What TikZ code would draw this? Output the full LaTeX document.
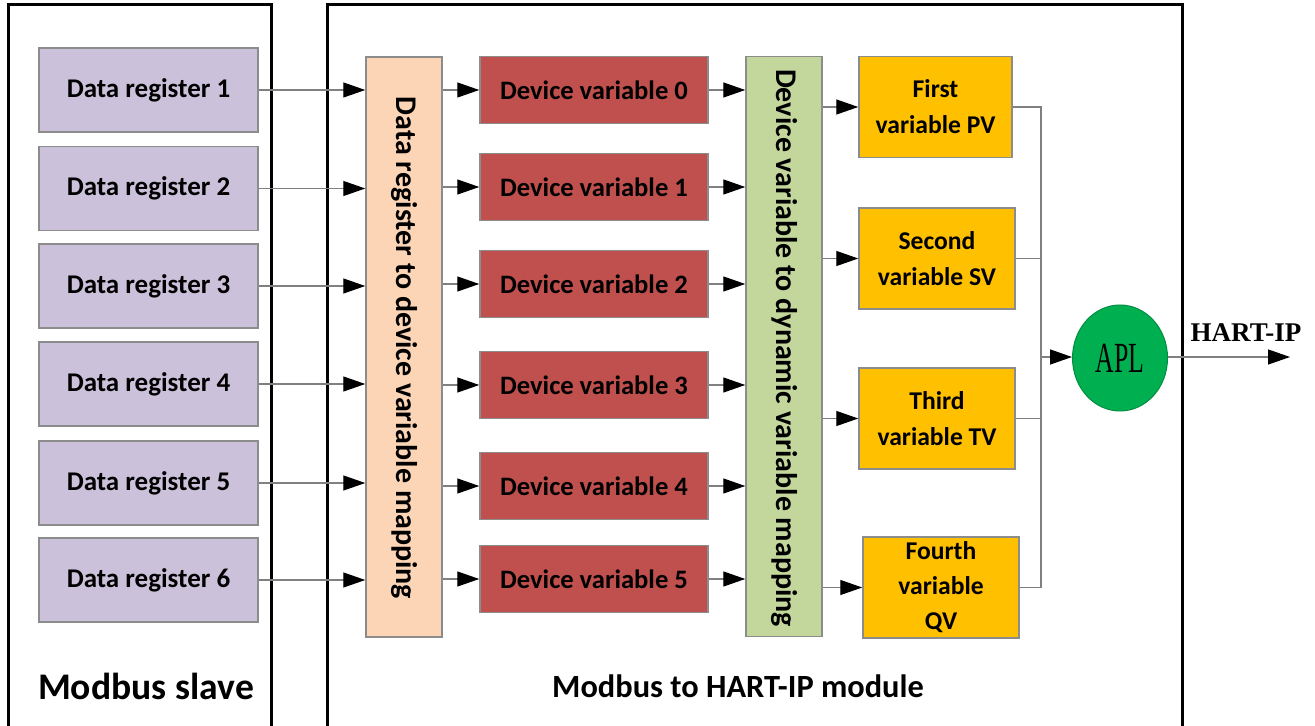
\documentclass[tikz,border=0pt]{standalone}
\usepackage{fontspec}
\setmainfont{Carlito}
\newfontfamily\serifb{Liberation Serif}
\usetikzlibrary{arrows.meta,shapes.geometric}
\definecolor{regfill}{HTML}{CCC1DA}
\definecolor{orfill}{HTML}{FBD5B5}
\definecolor{devfill}{HTML}{C0504D}
\definecolor{grfill}{HTML}{C3D69B}
\definecolor{yefill}{HTML}{FFC000}
\definecolor{aplfill}{HTML}{00B050}
\definecolor{edge}{HTML}{8C8C8C}
\definecolor{wire}{HTML}{808080}
\begin{document}
\begin{tikzpicture}[x=0.5pt,y=-0.5pt,
  txt/.style={font=\bfseries\fontsize{12.8}{18}\selectfont},
  box/.style={draw=edge, line width=0.75pt, inner sep=0pt, align=center, txt},
  regbox/.style={box, fill=regfill, minimum width=109.5pt, minimum height=42pt, font=\bfseries\fontsize{13.5}{18}\selectfont},
  devbox/.style={box, fill=devfill, minimum width=114pt, minimum height=33.5pt, font=\bfseries\fontsize{13.3}{18}\selectfont},
  barbox/.style={box, minimum width=38pt, minimum height=290pt},
  bartxt/.style={font=\bfseries\fontsize{15}{18}\selectfont, rotate=-90, inner sep=0pt},
  yebox/.style={box, fill=yefill, minimum width=78pt, minimum height=50.5pt},
  wireline/.style={draw=wire, line width=0.65pt},
  arr/.style={wireline, -{Triangle[length=11pt,width=7.5pt,fill=black,color=black]}},
  frame/.style={draw=black, line width=1.5pt}
]
\useasboundingbox (0,0) rectangle (1315,726);
\clip (0,0) rectangle (1315,726);
\fill[white] (0,0) rectangle (1315,726);

% outer frames
\draw[frame] (8,740) -- (8,5) -- (271,5) -- (271,740);
\draw[frame] (327,740) -- (327,5) -- (1182,5) -- (1182,740);

% data registers
\node[regbox] (r1) at (148.5,90) {Data register 1};
\node[regbox] (r2) at (148.5,188.5) {Data register 2};
\node[regbox] (r3) at (148.5,286) {Data register 3};
\node[regbox] (r4) at (148.5,384) {Data register 4};
\node[regbox] (r5) at (148.5,483) {Data register 5};
\node[regbox] (r6) at (148.5,580) {Data register 6};

% mapping bars
\node[barbox, fill=orfill] (mapA) at (404,347) {};
\node[bartxt] (mapAt) at (404,348) {Data register to device variable mapping};
\node[barbox, fill=grfill] (mapB) at (784,346.5) {};
\node[bartxt] (mapBt) at (784,348) {Device variable to dynamic variable mapping};

% device variables
\node[devbox] (d0) at (594,90) {Device variable 0};
\node[devbox] (d1) at (594,187) {Device variable 1};
\node[devbox] (d2) at (594,284) {Device variable 2};
\node[devbox] (d3) at (594,385) {Device variable 3};
\node[devbox] (d4) at (594,486) {Device variable 4};
\node[devbox] (d5) at (594,579) {Device variable 5};

% dynamic variables
\node[yebox, minimum width=76.5pt] (pv) at (935.5,107) {First\\variable PV};
\node[yebox] (sv) at (937,258.5) {Second\\variable SV};
\node[yebox] (tv) at (937,418.5) {Third\\variable TV};
\node[yebox, font=\bfseries\fontsize{12.8}{17.5}\selectfont] (qv) at (941,587.5) {Fourth\\variable\\QV};

% APL
\node[ellipse, draw=aplfill!80!black, line width=0.5pt, fill=aplfill, minimum width=47.5pt, minimum height=53pt, inner sep=0pt,
      font=\serifb\fontsize{21.5}{22}\selectfont] (apl) at (1120,358) {\scalebox{0.6}[1]{APL}};
\node[font=\serifb\bfseries\fontsize{13.5}{15}\selectfont, inner sep=0pt] (hart) at (1246,333) {HART-IP};

% arrows registers -> bar A
\foreach \i in {1,...,6} {
  \draw[arr] (r\i.east) -- (r\i.east -| mapA.west);
}
% bar A -> device vars, device vars -> bar B
\foreach \i in {0,...,5} {
  \draw[arr] (d\i.west -| mapA.east) -- (d\i.west);
  \draw[arr] (d\i.east) -- (d\i.east -| mapB.west);
}
% bar B -> dynamic variables
\foreach \n in {pv,sv,tv,qv} {
  \draw[arr] (\n.west -| mapB.east) -- (\n.west);
}
% bus to APL
\coordinate (bus) at (1041,357);
\foreach \n in {pv,sv,tv,qv} {
  \draw[wireline] (\n.east) -| (bus);
}
\draw[arr] (bus) -- (bus -| apl.west);
\coordinate (out) at (1290,357);
\draw[arr] (bus -| apl.east) -- (out);

% titles
\node[font=\bfseries\fontsize{18.8}{22}\selectfont] (t1) at (146,686) {Modbus slave};
\node[font=\bfseries\fontsize{16.2}{20}\selectfont] (t2) at (738,686) {Modbus to HART-IP module};
\end{tikzpicture}
\end{document}
